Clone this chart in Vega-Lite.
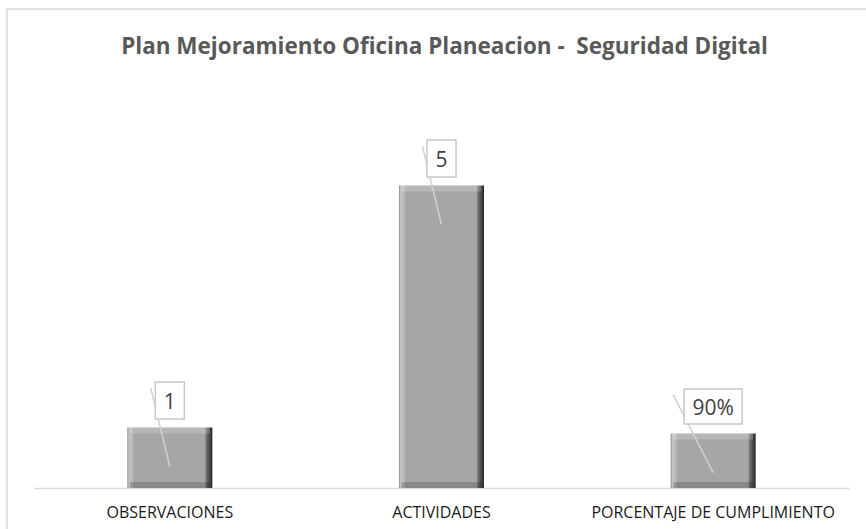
{
  "$schema": "https://vega.github.io/schema/vega-lite/v6.json",
  "width": 861,
  "height": 522,
  "autosize": {"type": "none"},
  "padding": {"left": 7, "top": 9, "right": -2, "bottom": -2},
  "background": "white",
  "config": {"view": {"stroke": "#d9d9d9", "strokeWidth": 1.5}, "font": "Open Sans"},
  "title": {
    "text": "Plan Mejoramiento Oficina Planeacion - \u00a0Seguridad Digital",
    "fontSize": 22.5,
    "fontWeight": "bold",
    "color": "#595959",
    "font": "Open Sans",
    "anchor": "middle",
    "frame": "group",
    "baseline": "alphabetic",
    "offset": -44,
    "dy": 23,
    "dx": 7
  },
  "data": {
    "values": [
      {"cat": "OBSERVACIONES", "value": 1, "label": "1"},
      {"cat": "ACTIVIDADES", "value": 5, "label": "5"},
      {"cat": "PORCENTAJE DE CUMPLIMIENTO", "value": 0.9, "label": "90%"}
    ]
  },
  "encoding": {
    "x": {
      "field": "cat",
      "type": "nominal",
      "sort": null,
      "scale": {"range": [27, 842], "paddingInner": 0.687, "paddingOuter": 0.3435},
      "axis": {
        "title": null,
        "labelAngle": 0,
        "ticks": false,
        "grid": false,
        "domainColor": "#d9d9d9",
        "domainWidth": 1.5,
        "labelFont": "Open Sans",
        "labelFontSize": 16,
        "labelColor": "#1a1a1a",
        "labelPadding": 16,
        "labelLimit": 0,
        "offset": -43
      }
    },
    "y": {
      "field": "value",
      "type": "quantitative",
      "scale": {"domain": [0, 6], "range": [479, 116]},
      "axis": null
    }
  },
  "layer": [
    {
      "mark": {
        "type": "bar",
        "fill": {
          "gradient": "linear",
          "x1": 0, "x2": 1, "y1": 0, "y2": 0,
          "stops": [
            {"offset": 0, "color": "#8a8a8a"},
            {"offset": 0.02, "color": "#c6c6c6"},
            {"offset": 0.07, "color": "#b4b4b4"},
            {"offset": 0.08, "color": "#a6a6a6"},
            {"offset": 0.91, "color": "#a6a6a6"},
            {"offset": 0.93, "color": "#707070"},
            {"offset": 1, "color": "#262626"}
          ]
        }
      }
    },
    {
      "mark": {"type": "tick", "color": "#ffffff", "opacity": 0.2, "thickness": 6, "size": 80, "yOffset": 3}
    },
    {
      "mark": {"type": "tick", "color": "#000000", "opacity": 0.18, "thickness": 6, "size": 80, "yOffset": -3},
      "encoding": {"y": {"datum": 0}}
    },
    {
      "transform": [{"filter": "datum.cat !== 'PORCENTAJE DE CUMPLIMIENTO'"}],
      "mark": {"type": "rule", "color": "#d0d0d0", "strokeWidth": 1.5, "xOffset": -19, "yOffset": -39, "y2Offset": 39},
      "encoding": {"x2": {"field": "cat"}, "y2": {"field": "value"}}
    },
    {
      "transform": [{"filter": "datum.cat === 'PORCENTAJE DE CUMPLIMIENTO'"}],
      "mark": {"type": "rule", "color": "#d0d0d0", "strokeWidth": 1.5, "xOffset": -40, "yOffset": -39, "y2Offset": 39},
      "encoding": {"x2": {"field": "cat"}, "y2": {"field": "value"}}
    },
    {
      "transform": [{"filter": "datum.cat !== 'PORCENTAJE DE CUMPLIMIENTO'"}],
      "mark": {"type": "point", "shape": "M-0.784,-1H0.784V1H-0.784Z", "size": 1369, "filled": true, "fill": "white", "stroke": "#c8c8c8", "strokeWidth": 1.5, "opacity": 1, "yOffset": -27}
    },
    {
      "transform": [{"filter": "datum.cat === 'PORCENTAJE DE CUMPLIMIENTO'"}],
      "mark": {"type": "point", "shape": "M-1,-0.603H1V0.603H-1Z", "size": 3364, "filled": true, "fill": "white", "stroke": "#c8c8c8", "strokeWidth": 1.5, "opacity": 1, "yOffset": -27}
    },
    {
      "mark": {"type": "text", "font": "Open Sans", "fontSize": 21, "color": "#404040", "align": "center", "baseline": "middle", "dy": -25},
      "encoding": {"text": {"field": "label"}}
    }
  ]
}
